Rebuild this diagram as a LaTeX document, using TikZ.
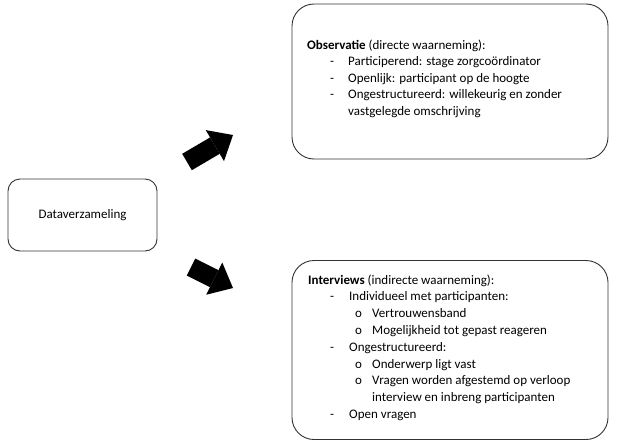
\documentclass[tikz,border=0pt]{standalone}
\usepackage{fontspec}
\setmainfont{Carlito}
\usepackage{tikz}
\usetikzlibrary{arrows.meta}

\begin{document}
\begin{tikzpicture}[x=1pt,y=-1pt,
    kader/.style={draw=black!80,line width=0.9pt,rounded corners=22pt},
    regel/.style={anchor=base west,inner sep=0pt},
    dikpijl/.style={line width=19pt,-{Triangle[length=21pt,width=36pt,line width=0pt]}}]
      \fontsize{13}{16}\selectfont
      \useasboundingbox (0,0) rectangle (620,442);
      \node[kader,rounded corners=12pt,minimum width=149pt,minimum height=72pt] (data) at (82.5,215) {Dataverzameling};
      \node[kader,minimum width=316pt,minimum height=155pt] (obs) at (450,81.5) {};
      \node[kader,minimum width=316pt,minimum height=179pt] (intv) at (450,350) {};
      % pijlen
      \coordinate (op1) at (187,162);
      \coordinate (op2) at (233,135);
      \coordinate (neer1) at (191,267);
      \coordinate (neer2) at (233,288);
      \draw[dikpijl] (op1) -- (op2);
      \draw[dikpijl] (neer1) -- (neer2);
      % observatie
      \node[regel] (obskop) at (307,49) {\textbf{Observatie} (directe waarneming):};
      \node[regel] (obsa) at (330,65.5) {-};
      \node[regel] (obsb) at (330,82) {-};
      \node[regel] (obsc) at (330,98.5) {-};
      \node[regel] (obs1) at (348,65.5) {Participerend: stage zorgcoördinator};
      \node[regel] (obs2) at (348,82) {Openlijk: participant op de hoogte};
      \node[regel] (obs3) at (348,98.5) {Ongestructureerd: willekeurig en zonder};
      \node[regel] (obs4) at (348,115) {vastgelegde omschrijving};
      % interviews
      \node[regel] (intkop) at (308,284) {\textbf{Interviews} (indirecte waarneming):};
      \node[regel] (inta) at (330,300.8) {-};
      \node[regel] (intb) at (330,351.2) {-};
      \node[regel] (intc) at (330,418.4) {-};
      \node[regel] (int1) at (349,300.8) {Individueel met participanten:};
      \node[regel] (int2) at (349,351.2) {Ongestructureerd:};
      \node[regel] (int3) at (349,418.4) {Open vragen};
      \node[regel] (intoa) at (355,317.6) {o};
      \node[regel] (intob) at (355,334.4) {o};
      \node[regel] (intoc) at (355,368) {o};
      \node[regel] (intod) at (355,384.8) {o};
      \node[regel] (int1a) at (372,317.6) {Vertrouwensband};
      \node[regel] (int1b) at (372,334.4) {Mogelijkheid tot gepast reageren};
      \node[regel] (int2a) at (372,368) {Onderwerp ligt vast};
      \node[regel] (int2b) at (372,384.8) {Vragen worden afgestemd op verloop};
      \node[regel] (int2c) at (372,401.6) {interview en inbreng participanten};
\end{tikzpicture}
\end{document}
